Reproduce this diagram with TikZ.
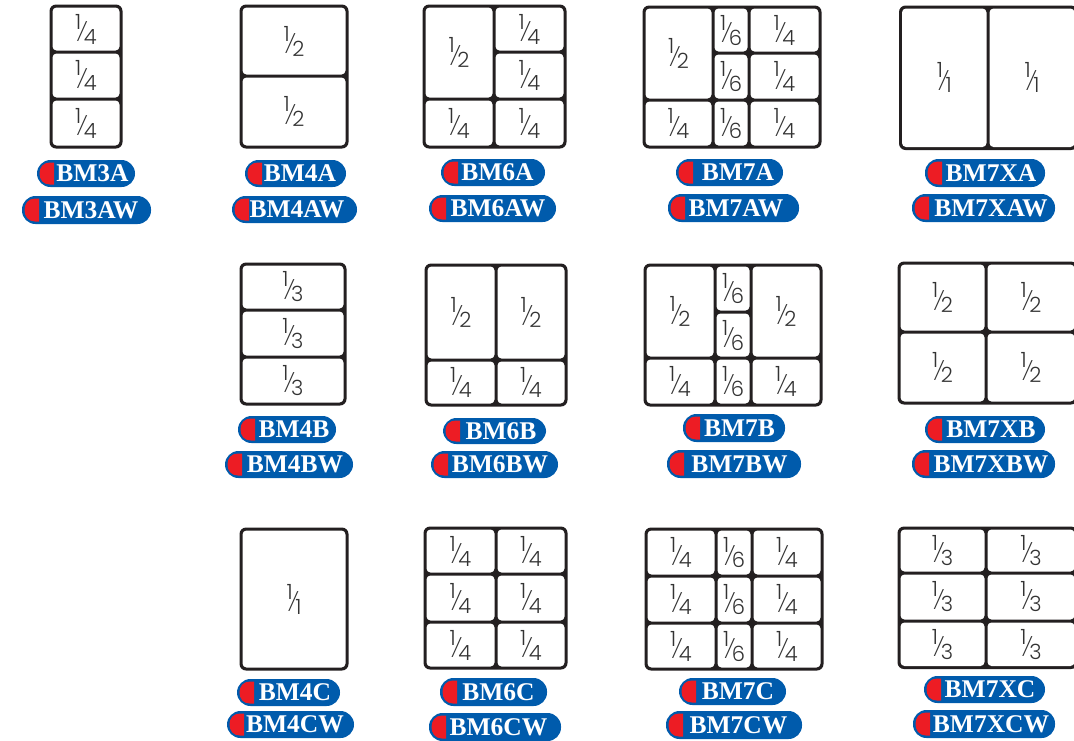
\documentclass[tikz,border=0pt]{standalone}
\usepackage{fontspec}
\newfontfamily\fracfont[UprightFont=* Light]{Poppins}
\newfontfamily\slashfont[UprightFont=* Light,FakeSlant=0.2]{Poppins}
\newfontfamily\pillfont[BoldFont=*]{Liberation Serif Bold}
\definecolor{bmblue}{HTML}{005BAC}
\definecolor{bmred}{HTML}{ED1C24}
\definecolor{bmink}{HTML}{231F20}
\definecolor{bmfrac}{HTML}{333333}
\tikzset{
  frameshape/.style={fill=bmink,draw=none,rounded corners=6.5pt,inner sep=0pt,outer sep=0pt},
  cellshape/.style={fill=white,draw=none,rounded corners=4pt,inner sep=0pt,outer sep=0pt,text=bmfrac,font=\fracfont},
  pillshape/.style={fill=bmblue,draw=none,rounded corners=13.5pt,inner sep=0pt,outer sep=0pt},
  pilltext/.style={text=white,inner sep=0pt,outer sep=0pt,font=\pillfont\fontsize{25.5}{26}\selectfont},
}
\newcommand{\fracn}[2]{\fontsize{21}{22}\selectfont\raisebox{7.5pt}{#1}\kern-4.5pt\raisebox{-2pt}{\slashfont\fontsize{18}{18}\selectfont/}\kern-0.8pt\raisebox{-7.5pt}{#2}}
% name x1 y1 x2 y2 (centre lines of the frame)
\newcommand{\bmframe}[5]{%
  \pgfmathsetmacro{\bw}{#4-#2+3}\pgfmathsetmacro{\bh}{#5-#3+3}%
  \pgfmathsetmacro{\bx}{(#4+#2)/2}\pgfmathsetmacro{\by}{(#5+#3)/2}%
  \node[frameshape,minimum width=\bw pt,minimum height=\bh pt] (#1) at (\bx,\by) {};}
% name x1 y1 x2 y2 num den
\newcommand{\bmcell}[7]{%
  \pgfmathsetmacro{\bw}{#4-#2-3}\pgfmathsetmacro{\bh}{#5-#3-3}%
  \pgfmathsetmacro{\bx}{(#4+#2)/2}\pgfmathsetmacro{\by}{(#5+#3)/2}%
  \node[cellshape,minimum width=\bw pt,minimum height=\bh pt] (#1) at (\bx,\by) {\fracn{#6}{#7}};}
% text x1 y1 x2 y2 textcentre
\newcommand{\bmpill}[6]{%
  \pgfmathsetmacro{\bw}{#4-#2}\pgfmathsetmacro{\bh}{#5-#3}%
  \pgfmathsetmacro{\bx}{(#4+#2)/2}\pgfmathsetmacro{\by}{(#5+#3)/2}%
  \node[pillshape,minimum width=\bw pt,minimum height=\bh pt] (pill#1) at (\bx,\by) {};
  \fill[bmred] (#2+17,#3+2.5) -- (#2+13,#3+2.5) .. controls (#2+6,#3+2.5) and (#2+2.5,\by-6) .. (#2+2.5,\by) .. controls (#2+2.5,\by+6) and (#2+6,#5-2.5) .. (#2+13,#5-2.5) -- (#2+17,#5-2.5) -- cycle;
  \node[pilltext] (text#1) at (#6,\by) {\vphantom{B}#1};}
\begin{document}
\begin{tikzpicture}[x=1pt,y=-1pt]
\useasboundingbox (0,0) rectangle (1074,740);
% BM3A
\bmframe{f3a}{51}{6}{121}{147}
\bmcell{c3a1}{51}{6}{121}{52}{1}{4}
\bmcell{c3a2}{51}{52}{121}{99}{1}{4}
\bmcell{c3a3}{51}{99}{121}{147}{1}{4}
\bmpill{BM3A}{37}{160}{135}{187}{92.5}
\bmpill{BM3AW}{22}{196}{151}{224}{91}
% BM4A
\bmframe{f4a}{241}{6}{347}{147}
\bmcell{c4a1}{241}{6}{347}{76}{1}{2}
\bmcell{c4a2}{241}{76}{347}{147}{1}{2}
\bmpill{BM4A}{245}{160}{346}{187}{300}
\bmpill{BM4AW}{232}{196}{357}{223}{297}
% BM6A
\bmframe{f6a}{424}{6}{565}{147}
\bmcell{c6a1}{424}{6}{494}{99}{1}{2}
\bmcell{c6a2}{494}{6}{565}{52}{1}{4}
\bmcell{c6a3}{494}{52}{565}{99}{1}{4}
\bmcell{c6a4}{424}{99}{494}{147}{1}{4}
\bmcell{c6a5}{494}{99}{565}{147}{1}{4}
\bmpill{BM6A}{441}{159}{545}{186}{497.5}
\bmpill{BM6AW}{429}{195}{556}{222}{498}
% BM7A
\bmframe{f7a}{644}{7}{820}{147}
\bmcell{c7a1}{644}{7}{713}{100}{1}{2}
\bmcell{c7a2}{713}{7}{749}{53}{1}{6}
\bmcell{c7a3}{713}{53}{749}{100}{1}{6}
\bmcell{c7a4}{749}{7}{820}{53}{1}{4}
\bmcell{c7a5}{749}{53}{820}{100}{1}{4}
\bmcell{c7a6}{644}{100}{713}{147}{1}{4}
\bmcell{c7a7}{713}{100}{749}{147}{1}{6}
\bmcell{c7a8}{749}{100}{820}{147}{1}{4}
\bmpill{BM7A}{676}{159}{783}{186}{738}
\bmpill{BM7AW}{668}{194}{799}{222}{736}
% BM7XA
\bmframe{f7xa}{900.5}{7}{1076}{148.5}
\bmcell{c7xa1}{900.5}{7}{988}{148.5}{1}{1}
\bmcell{c7xa2}{988}{7}{1076}{148.5}{1}{1}
\bmpill{BM7XA}{925}{159}{1045}{187}{991}
\bmpill{BM7XAW}{912}{194}{1055}{222}{991}
% BM4B
\bmframe{f4b}{241}{264}{345}{404}
\bmcell{c4b1}{241}{264}{345}{310}{1}{3}
\bmcell{c4b2}{241}{310}{345}{357}{1}{3}
\bmcell{c4b3}{241}{357}{345}{404}{1}{3}
\bmpill{BM4B}{238}{416}{336}{443}{294}
\bmpill{BM4BW}{225}{451}{353}{478}{295}
% BM6B
\bmframe{f6b}{426}{265}{566}{405}
\bmcell{c6b1}{426}{265}{496}{360}{1}{2}
\bmcell{c6b2}{496}{265}{566}{360}{1}{2}
\bmcell{c6b3}{426}{360}{496}{405}{1}{4}
\bmcell{c6b4}{496}{360}{566}{405}{1}{4}
\bmpill{BM6B}{443}{418}{546}{444}{501}
\bmpill{BM6BW}{431}{451}{558}{478}{500}
% BM7B
\bmframe{f7b}{645}{265}{821}{405}
\bmcell{c7b1}{645}{265}{715}{358}{1}{2}
\bmcell{c7b2}{715}{265}{751}{312}{1}{6}
\bmcell{c7b3}{715}{312}{751}{358}{1}{6}
\bmcell{c7b4}{751}{265}{821}{358}{1}{2}
\bmcell{c7b5}{645}{358}{715}{405}{1}{4}
\bmcell{c7b6}{715}{358}{751}{405}{1}{6}
\bmcell{c7b7}{751}{358}{821}{405}{1}{4}
\bmpill{BM7B}{683}{414}{785}{442}{739.5}
\bmpill{BM7BW}{667}{450}{801}{478}{739.5}
% BM7XB
\bmframe{f7xb}{899}{263}{1076}{403}
\bmcell{c7xb1}{899}{263}{986}{332}{1}{2}
\bmcell{c7xb2}{986}{263}{1076}{332}{1}{2}
\bmcell{c7xb3}{899}{332}{986}{403}{1}{2}
\bmcell{c7xb4}{986}{332}{1076}{403}{1}{2}
\bmpill{BM7XB}{925}{416}{1045}{443}{991}
\bmpill{BM7XBW}{912}{450}{1055}{478}{991}
% BM4C
\bmframe{f4c}{241}{529}{347}{669}
\bmcell{c4c1}{241}{529}{347}{669}{1}{1}
\bmpill{BM4C}{237}{679}{340}{706}{295}
\bmpill{BM4CW}{227}{711}{354}{738}{295}
% BM6C
\bmframe{f6c}{425}{528}{566}{668}
\bmcell{c6c1}{425}{528}{496}{574}{1}{4}
\bmcell{c6c2}{496}{528}{566}{574}{1}{4}
\bmcell{c6c3}{425}{574}{496}{622}{1}{4}
\bmcell{c6c4}{496}{574}{566}{622}{1}{4}
\bmcell{c6c5}{425}{622}{496}{668}{1}{4}
\bmcell{c6c6}{496}{622}{566}{668}{1}{4}
\bmpill{BM6C}{440}{678}{547}{706}{498.5}
\bmpill{BM6CW}{429}{713}{561}{741}{498.5}
% BM7C
\bmframe{f7c}{646}{529}{822}{669}
\bmcell{c7c1}{646}{529}{716}{576}{1}{4}
\bmcell{c7c2}{716}{529}{752}{576}{1}{6}
\bmcell{c7c3}{752}{529}{822}{576}{1}{4}
\bmcell{c7c4}{646}{576}{716}{623}{1}{4}
\bmcell{c7c5}{716}{576}{752}{623}{1}{6}
\bmcell{c7c6}{752}{576}{822}{623}{1}{4}
\bmcell{c7c7}{646}{623}{716}{669}{1}{4}
\bmcell{c7c8}{716}{623}{752}{669}{1}{6}
\bmcell{c7c9}{752}{623}{822}{669}{1}{4}
\bmpill{BM7C}{679}{678}{786}{705}{738}
\bmpill{BM7CW}{666}{711}{802}{739}{738.5}
% BM7XC
\bmframe{f7xc}{899}{528}{1076}{667.5}
\bmcell{c7xc1}{899}{528}{986}{573}{1}{3}
\bmcell{c7xc2}{986}{528}{1076}{573}{1}{3}
\bmcell{c7xc3}{899}{573}{986}{621}{1}{3}
\bmcell{c7xc4}{986}{573}{1076}{621}{1}{3}
\bmcell{c7xc5}{899}{621}{986}{667.5}{1}{3}
\bmcell{c7xc6}{986}{621}{1076}{667.5}{1}{3}
\bmpill{BM7XC}{924}{676}{1045}{703}{990}
\bmpill{BM7XCW}{913}{710}{1055}{738}{991}
\end{tikzpicture}
\end{document}
